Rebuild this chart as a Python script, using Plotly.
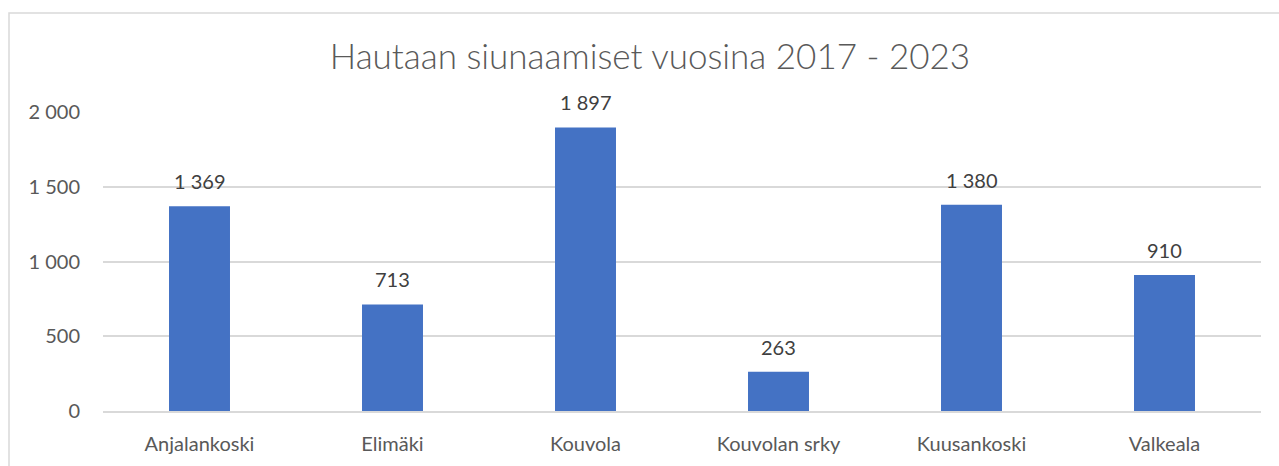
import plotly.graph_objects as go

categories = ["Anjalankoski", "Elimäki", "Kouvola", "Kouvolan srky", "Kuusankoski", "Valkeala"]
values = [1369, 713, 1897, 263, 1380, 910]
y_ticks = [0, 500, 1000, 1500, 2000]
y_tick_labels = ["0", "500", "1 000", "1 500", "2 000"]
title_text = "Hautaan siunaamiset vuosina 2017 - 2023"

FONT = "Lato"

fig = go.Figure(
    go.Bar(
        x=categories,
        y=values,
        marker=dict(color="#4472C4", line=dict(width=0)),
        hoverinfo="skip",
    )
)

annotations = [
    dict(
        x=c, y=v, xref="x", yref="y",
        text=f"{v:,}".replace(",", " "),
        showarrow=False, yanchor="middle", yshift=25,
        font=dict(family=FONT, size=20, color="#404040"),
    )
    for c, v in zip(categories, values)
]

fig.update_layout(
    width=1279,
    height=466,
    paper_bgcolor="white",
    plot_bgcolor="white",
    margin=dict(l=103, r=18, t=112, b=55, autoexpand=False),
    bargap=0.684,
    showlegend=False,
    title=dict(
        text=title_text,
        x=650 / 1279,
        xanchor="center",
        y=1 - 57 / 466,
        yanchor="middle",
        font=dict(family=FONT, size=35, color="#595959", weight=300),
    ),
    font=dict(family=FONT, color="#595959"),
    annotations=annotations,
    shapes=[
        dict(
            type="rect", xref="paper", yref="paper",
            x0=-94 / 1158, x1=1.2, y0=-0.5, y1=1 + 99 / 299,
            line=dict(color="#d9d9d9", width=1.5),
        )
    ],
)

fig.update_yaxes(
    range=[0, 2000],
    tickvals=y_ticks,
    ticktext=y_tick_labels,
    showgrid=True,
    gridcolor="#d9d9d9",
    gridwidth=1.5,
    zeroline=False,
    showline=False,
    tickfont=dict(family=FONT, size=20, color="#595959"),
    ticklabelstandoff=22,
    automargin=False,
    fixedrange=True,
)

fig.update_xaxes(
    showline=True,
    linecolor="#d9d9d9",
    linewidth=1.5,
    showgrid=False,
    tickfont=dict(family=FONT, size=20, color="#595959"),
    ticklabelstandoff=14,
    automargin=False,
    fixedrange=True,
)

fig.write_html(
    "out.html",
    config={"displayModeBar": False},
    post_script="document.body.style.margin='0';document.body.style.overflow='hidden';",
)
